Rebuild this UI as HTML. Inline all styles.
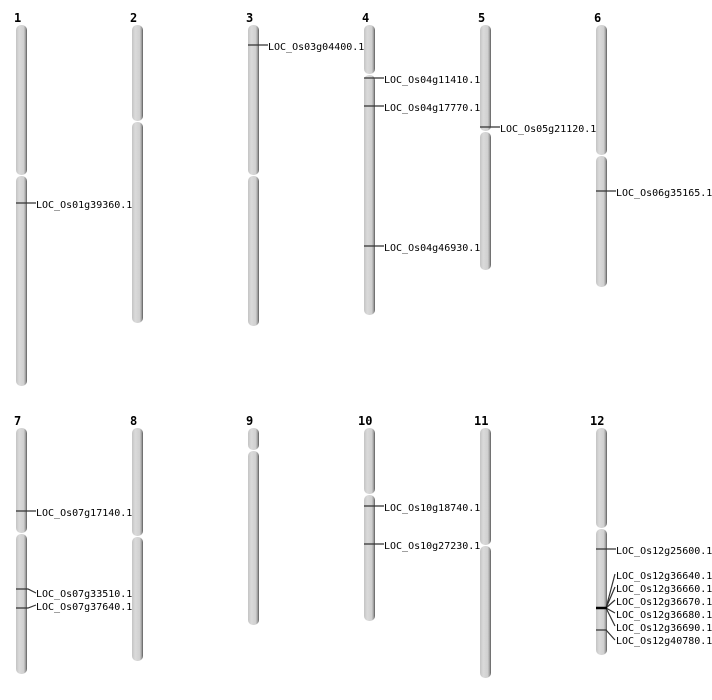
<!DOCTYPE html>
<html><head><meta charset="utf-8"><style>body{margin:0;background:#fff}svg{display:block}</style></head><body>
<svg width="712" height="700" xmlns="http://www.w3.org/2000/svg" font-family="DejaVu Sans Mono, Liberation Mono, monospace">
<defs>
<linearGradient id="g" x1="0" x2="1" y1="0" y2="0">
<stop offset="0" stop-color="#c4c4c4"/><stop offset="0.3" stop-color="#dadada"/><stop offset="0.7" stop-color="#d0d0d0"/><stop offset="0.85" stop-color="#a8a8a8"/><stop offset="1" stop-color="#5a5a5a"/>
</linearGradient>
</defs>
<g id="chroms" fill="url(#g)">
<!-- x left, top, cen, bottom -->
<rect x="16" y="25" width="11" height="150" rx="5"/><rect x="16" y="176" width="11" height="210" rx="5"/>
<rect x="132" y="25" width="11" height="96" rx="5"/><rect x="132" y="122" width="11" height="201" rx="5"/>
<rect x="248" y="25" width="11" height="150" rx="5"/><rect x="248" y="176" width="11" height="150" rx="5"/>
<rect x="364" y="25" width="11" height="49" rx="5"/><rect x="364" y="75" width="11" height="240" rx="5"/>
<rect x="480" y="25" width="11" height="106" rx="5"/><rect x="480" y="132" width="11" height="138" rx="5"/>
<rect x="596" y="25" width="11" height="130" rx="5"/><rect x="596" y="156" width="11" height="131" rx="5"/>
<rect x="16" y="428" width="11" height="105" rx="5"/><rect x="16" y="534" width="11" height="140" rx="5"/>
<rect x="132" y="428" width="11" height="108" rx="5"/><rect x="132" y="537" width="11" height="124" rx="5"/>
<rect x="248" y="428" width="11" height="22" rx="5"/><rect x="248" y="451" width="11" height="174" rx="5"/>
<rect x="364" y="428" width="11" height="66" rx="5"/><rect x="364" y="495" width="11" height="126" rx="5"/>
<rect x="480" y="428" width="11" height="117" rx="5"/><rect x="480" y="546" width="11" height="132" rx="5"/>
<rect x="596" y="428" width="11" height="100" rx="5"/><rect x="596" y="529" width="11" height="126" rx="5"/>
</g>
<g font-size="12" font-weight="bold" fill="#000">
<text x="14" y="22">1</text><text x="130" y="22">2</text><text x="246" y="22">3</text><text x="362" y="22">4</text><text x="478" y="22">5</text><text x="594" y="22">6</text>
<text x="14" y="425">7</text><text x="130" y="425">8</text><text x="246" y="425">9</text><text x="358" y="425">10</text><text x="474" y="425">11</text><text x="590" y="425">12</text>
</g>
<g stroke="#333" stroke-width="1.2" fill="none">
<path d="M16 203H36M248 45H268M364 78H384M364 106H384M364 246H384M480 127H500M596 191H616"/>
<path d="M16 511H36M16 589H28L36 593M16 608H28L36 605M364 506H384M364 544H384M596 549H616"/>
<path d="M606 608L615 574M606 608L615 587M606 608L615 600M606 608L615 613M606 608L615 626M596 630H606L615 640"/>
<path d="M596 608H607" stroke="#000" stroke-width="2.5"/>
</g>
<g font-size="10" fill="#000">
<text x="36" y="208">LOC_Os01g39360.1</text>
<text x="268" y="50">LOC_Os03g04400.1</text>
<text x="384" y="83">LOC_Os04g11410.1</text>
<text x="384" y="111">LOC_Os04g17770.1</text>
<text x="384" y="251">LOC_Os04g46930.1</text>
<text x="500" y="132">LOC_Os05g21120.1</text>
<text x="616" y="196">LOC_Os06g35165.1</text>
<text x="36" y="516">LOC_Os07g17140.1</text>
<text x="36" y="597">LOC_Os07g33510.1</text>
<text x="36" y="610">LOC_Os07g37640.1</text>
<text x="384" y="511">LOC_Os10g18740.1</text>
<text x="384" y="549">LOC_Os10g27230.1</text>
<text x="616" y="554">LOC_Os12g25600.1</text>
<text x="616" y="579">LOC_Os12g36640.1</text>
<text x="616" y="592">LOC_Os12g36660.1</text>
<text x="616" y="605">LOC_Os12g36670.1</text>
<text x="616" y="618">LOC_Os12g36680.1</text>
<text x="616" y="631">LOC_Os12g36690.1</text>
<text x="616" y="644">LOC_Os12g40780.1</text>
</g>
</svg>
</body></html>
